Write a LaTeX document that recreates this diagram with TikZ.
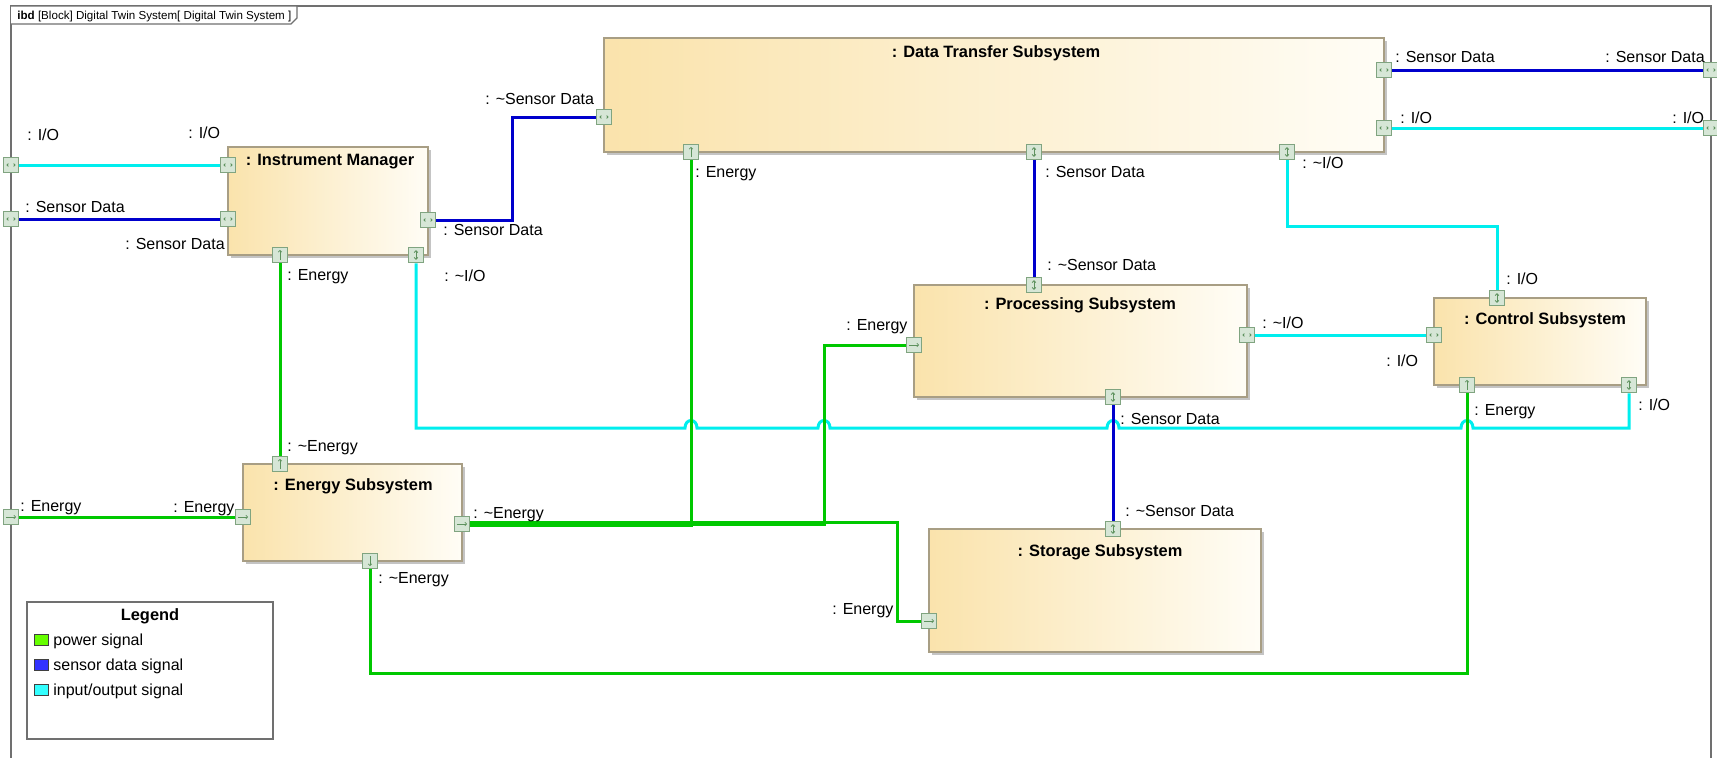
\documentclass[tikz,border=0pt]{standalone}
\usepackage{fontspec}
\setmainfont{Liberation Sans}
\usepackage{xcolor}
\usepackage{tikz}
\usetikzlibrary{positioning, shadows, arrows.meta}

\definecolor{framegray}{HTML}{707070}
\definecolor{blockL}{HTML}{FAE3AC}
\definecolor{blockR}{HTML}{FFFDF6}
\definecolor{blockedge}{HTML}{A89E84}
\definecolor{shadowgray}{HTML}{C4C4C4}
\definecolor{portfill}{HTML}{D6E6D6}
\definecolor{portedge}{HTML}{80A480}
\definecolor{glyphcol}{HTML}{5E925E}
\definecolor{powerline}{HTML}{00C800}
\definecolor{sensorline}{HTML}{0000CC}
\definecolor{ioline}{HTML}{00EEEE}
\definecolor{powerfill}{HTML}{66FF00}
\definecolor{sensorfill}{HTML}{3333FF}
\definecolor{iofill}{HTML}{33FFFF}

\newcommand{\tld}{\textasciitilde}

\begin{document}
\begin{tikzpicture}[x=0.5pt,y=-0.5pt]
	\tikzstyle{frameline}=[draw=framegray, line width=0.6pt]
	\tikzstyle{block}=[draw=blockedge, line width=0.6pt, left color=blockL, right color=blockR, inner sep=0pt, drop shadow={shadow xshift=1.3pt, shadow yshift=-1.3pt, fill=shadowgray, opacity=1}]
	\tikzstyle{title}=[font=\fontsize{8.2}{9}\selectfont\bfseries, inner sep=0pt, text height=5.9pt, text depth=0pt]
	\tikzstyle{lbl}=[font=\fontsize{8}{9}\selectfont, inner sep=0pt, text height=5.7pt, text depth=0pt, anchor=west]
	\tikzstyle{power}=[draw=powerline, line width=1.5pt]
	\tikzstyle{sensor}=[draw=sensorline, line width=1.5pt]
	\tikzstyle{io}=[draw=ioline, line width=1.5pt]
	\tikzstyle{glyph}=[draw=glyphcol, line width=0.4pt]
	\tikzstyle{port}=[draw=portedge, line width=0.5pt, fill=portfill, minimum size=7.8pt, inner sep=0pt]
	\tikzstyle{ph}=[port, path picture={\draw[glyph] ([xshift=2.6pt,yshift=0.7pt]path picture bounding box.west) -- ([xshift=1.9pt]path picture bounding box.west) -- ([xshift=2.6pt,yshift=-0.7pt]path picture bounding box.west) ([xshift=-2.6pt,yshift=0.7pt]path picture bounding box.east) -- ([xshift=-1.9pt]path picture bounding box.east) -- ([xshift=-2.6pt,yshift=-0.7pt]path picture bounding box.east);}]
	\tikzstyle{pv}=[port, path picture={\draw[glyph, {Straight Barb[length=0.9pt,width=1.8pt]}-{Straight Barb[length=0.9pt,width=1.8pt]}] ([yshift=-1.5pt]path picture bounding box.north) -- ([yshift=1.5pt]path picture bounding box.south);}]
	\tikzstyle{pu}=[port, path picture={\draw[glyph, -{Straight Barb[length=0.9pt,width=1.8pt]}] ([yshift=1.3pt]path picture bounding box.south) -- ([yshift=-1.3pt]path picture bounding box.north);}]
	\tikzstyle{pd}=[port, path picture={\draw[glyph, -{Straight Barb[length=0.9pt,width=1.8pt]}] ([yshift=-1.3pt]path picture bounding box.north) -- ([yshift=1.3pt]path picture bounding box.south);}]
	\tikzstyle{pr}=[port, path picture={\draw[glyph, -{Straight Barb[length=0.9pt,width=1.8pt]}] ([xshift=1.3pt]path picture bounding box.west) -- ([xshift=-1.3pt]path picture bounding box.east);}]
	\tikzstyle{swatch}=[draw=black!75, line width=0.5pt, minimum width=7pt, minimum height=5.5pt, inner sep=0pt]

	\useasboundingbox (0,0) rectangle (1717,757);
	\fill[white] (0,0) rectangle (1717,757);

	\draw[frameline] (11,790) -- (11,6) -- (1711,6) -- (1711,790);
	\draw[frameline, fill=white] (11,6) -- (297,6) -- (297,18) -- (291,24) -- (11,24);
	\node[lbl, font=\fontsize{5.8}{6}\selectfont, text height=4.1pt] (frameT) at (17,15) {\textbf{ibd} [Block] Digital Twin System[ Digital Twin System ]};

	\node[block, minimum width=100pt, minimum height=54pt] (im) at (328,201) {};
	\node[block, minimum width=390pt, minimum height=57pt] (dts) at (994,95) {};
	\node[block, minimum width=166.5pt, minimum height=56pt] (ps) at (1080.5,341) {};
	\node[block, minimum width=106pt, minimum height=43.5pt] (cs) at (1540,341.5) {};
	\node[block, minimum width=109.5pt, minimum height=48.5pt] (es) at (352.5,512.5) {};
	\node[block, minimum width=166pt, minimum height=61.5pt] (st) at (1095,590.5) {};

	\node[title] (imT) at (330,160) {: Instrument Manager};
	\node[title] (dtsT) at (996,52) {: Data Transfer Subsystem};
	\node[title] (psT) at (1080,304) {: Processing Subsystem};
	\node[title] (csT) at (1545,319) {: Control Subsystem};
	\node[title] (esT) at (353,485) {: Energy Subsystem};
	\node[title] (stT) at (1100,551) {: Storage Subsystem};

	\node[ph] (fIOl) at (11,165) {};
	\node[ph] (fSDl) at (11,219) {};
	\node[pr] (fEn) at (11,517) {};
	\node[ph] (fSDr) at (1711,70) {};
	\node[ph] (fIOr) at (1711,128) {};

	\node[ph] (imIOl) at (228,165) {};
	\node[ph] (imSDl) at (228,219) {};
	\node[ph] (imSDr) at (428,220) {};
	\node[pu] (imEn) at (280,255) {};
	\node[pv] (imIO) at (416,255) {};

	\node[ph] (dtsSDl) at (604,117) {};
	\node[pu] (dtsEn) at (691,152) {};
	\node[pv] (dtsSD) at (1034,152) {};
	\node[pv] (dtsIO) at (1287,152) {};
	\node[ph] (dtsSDr) at (1384,70) {};
	\node[ph] (dtsIOr) at (1384,128) {};

	\node[pv] (psSDt) at (1034,285) {};
	\node[pr] (psEn) at (914,345) {};
	\node[ph] (psIO) at (1247,335) {};
	\node[pv] (psSDb) at (1113,397) {};

	\node[pv] (csIOt) at (1497,298) {};
	\node[ph] (csIOl) at (1434,335) {};
	\node[pu] (csEn) at (1467,385) {};
	\node[pv] (csIOb) at (1629,385) {};

	\node[pu] (esEnT) at (280,464) {};
	\node[pr] (esEnL) at (243,517) {};
	\node[pr] (esEnR) at (462,524) {};
	\node[pd] (esEnB) at (370,561) {};

	\node[pv] (stSD) at (1113,529) {};
	\node[pr] (stEn) at (929,621) {};

	\draw[io] (fIOl.east) -- (imIOl.west);
	\draw[sensor] (fSDl.east) -- (imSDl.west);
	\draw[sensor] (imSDr.east) -- (512,220) |- (dtsSDl.west);
	\draw[power] (imEn.south) -- (esEnT.north);
	\draw[io] (imIO.south) -- (416,428) \foreach \hx in {691,824,1113,1467} { -- (\hx-6,428) .. controls (\hx-6,418) and (\hx+6,418) .. (\hx+6,428) } -| (csIOb.south);
	\draw[power] ([yshift=-0.8pt]esEnR.east) -| (dtsEn.south);
	\draw[power] (esEnR.east) -| (824,345) -- (psEn.west);
	\draw[power] ([yshift=0.8pt]esEnR.east) -| (897,621) -- (stEn.west);
	\draw[power] (fEn.east) -- (esEnL.west);
	\draw[power] (esEnB.south) -- (370,673) -| (csEn.south);
	\draw[sensor] (dtsSD.south) -- (psSDt.north);
	\draw[sensor] (psSDb.south) -- (stSD.north);
	\draw[io] (dtsIO.south) -- (1287,226) -| (csIOt.north);
	\draw[io] (psIO.east) -- (csIOl.west);
	\draw[sensor] (dtsSDr.east) -- (fSDr.west);
	\draw[io] (dtsIOr.east) -- (fIOr.west);

	\node[lbl] (l1) at (27,135) {: I/O};
	\node[lbl] (l2) at (188,133) {: I/O};
	\node[lbl] (l3) at (25,207) {: Sensor Data};
	\node[lbl] (l4) at (125,244) {: Sensor Data};
	\node[lbl] (l5) at (443,230) {: Sensor Data};
	\node[lbl] (l6) at (485,99) {: \tld Sensor Data};
	\node[lbl] (l7) at (287,275) {: Energy};
	\node[lbl] (l8) at (444,276) {: \tld I/O};
	\node[lbl] (l9) at (695,172) {: Energy};
	\node[lbl] (l10) at (1045,172) {: Sensor Data};
	\node[lbl] (l11) at (1302,163) {: \tld I/O};
	\node[lbl] (l12) at (1395,57) {: Sensor Data};
	\node[lbl] (l13) at (1605,57) {: Sensor Data};
	\node[lbl] (l14) at (1400,118) {: I/O};
	\node[lbl] (l15) at (1672,118) {: I/O};
	\node[lbl] (l16) at (1047,265) {: \tld Sensor Data};
	\node[lbl] (l17) at (846,325) {: Energy};
	\node[lbl] (l18) at (1262,323) {: \tld I/O};
	\node[lbl] (l19) at (1386,361) {: I/O};
	\node[lbl] (l20) at (1506,279) {: I/O};
	\node[lbl] (l21) at (1474,410) {: Energy};
	\node[lbl] (l22) at (1638,405) {: I/O};
	\node[lbl] (l23) at (1120,419) {: Sensor Data};
	\node[lbl] (l24) at (287,446) {: \tld Energy};
	\node[lbl] (l25) at (20,506) {: Energy};
	\node[lbl] (l26) at (173,507) {: Energy};
	\node[lbl] (l27) at (473,513) {: \tld Energy};
	\node[lbl] (l28) at (378,578) {: \tld Energy};
	\node[lbl] (l29) at (1125,511) {: \tld Sensor Data};
	\node[lbl] (l30) at (832,609) {: Energy};

	\node[draw=framegray, line width=0.6pt, minimum width=123pt, minimum height=68.5pt, inner sep=0pt] (legend) at (150,670.5) {};
	\node[title] (legendT) at (150,615) {Legend};
	\node[swatch, fill=powerfill] (swP) at (41,640) {};
	\node[swatch, fill=sensorfill] (swS) at (41,665) {};
	\node[swatch, fill=iofill] (swI) at (41,690) {};
	\node[lbl] (txP) at (53,640) {power signal};
	\node[lbl] (txS) at (53,665) {sensor data signal};
	\node[lbl] (txI) at (53,690) {input/output signal};
\end{tikzpicture}
\end{document}
